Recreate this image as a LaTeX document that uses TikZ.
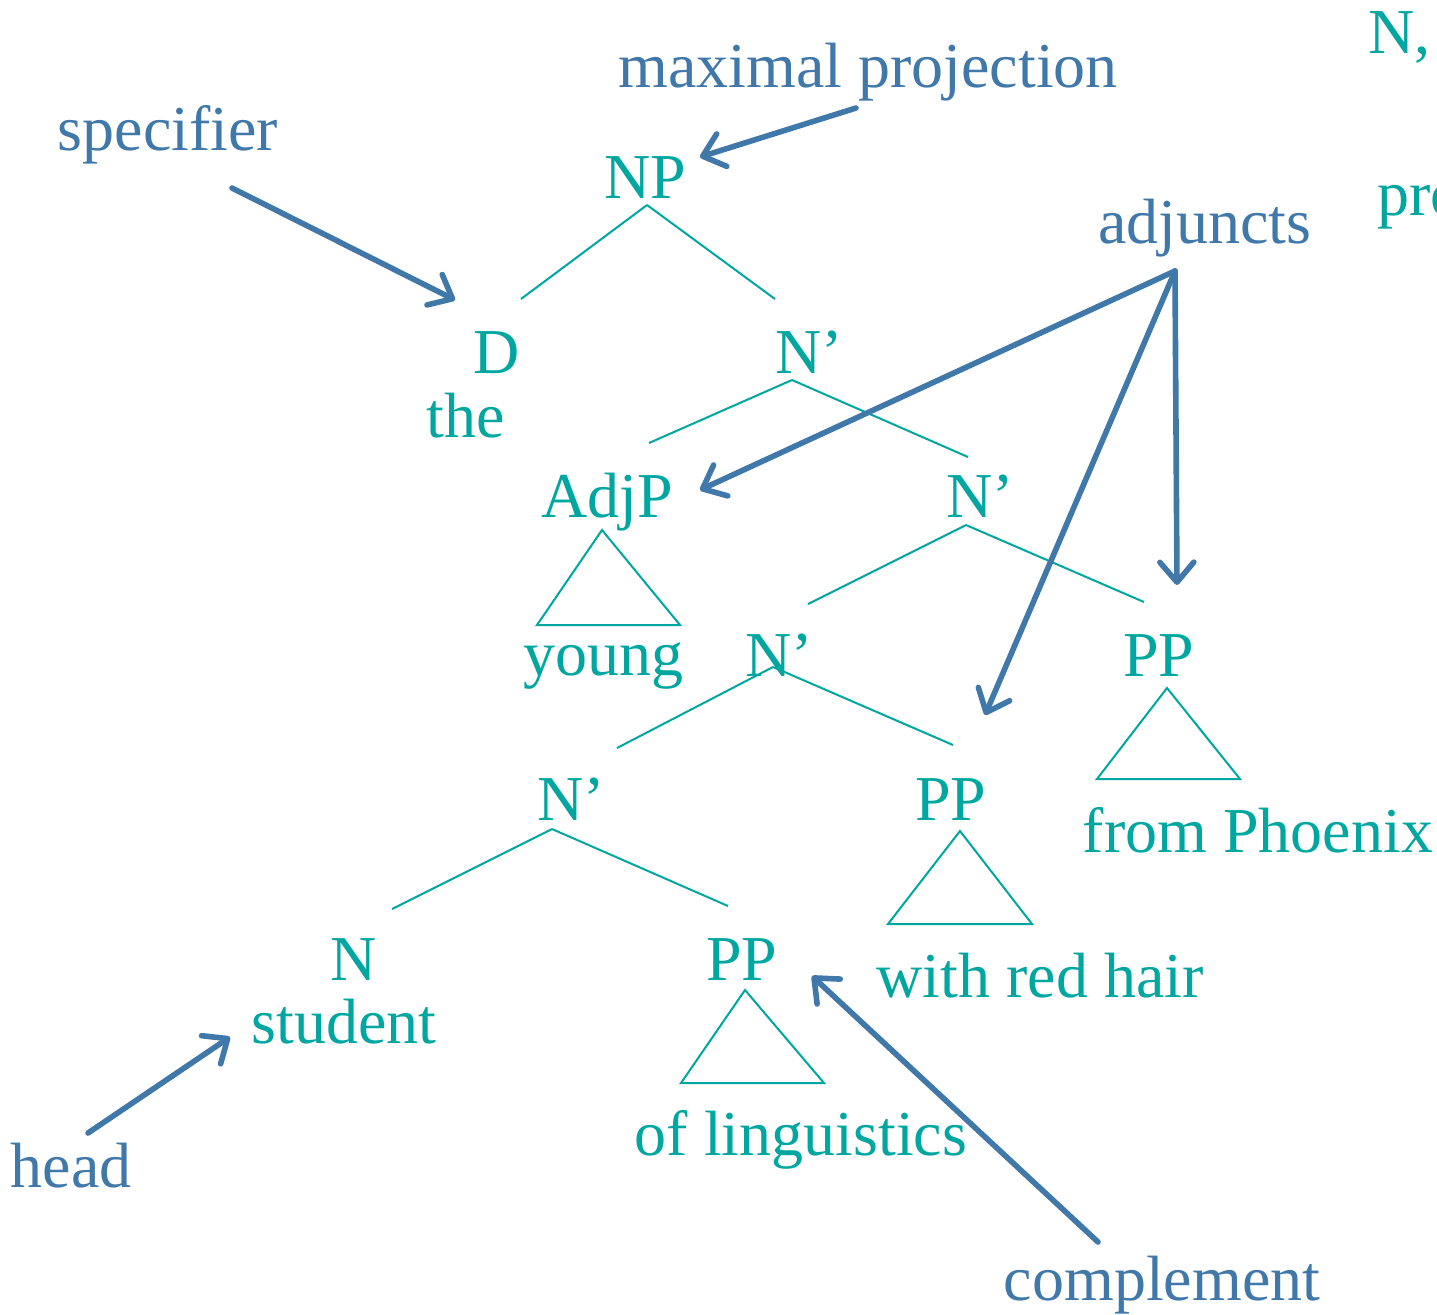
\documentclass[tikz,border=0pt]{standalone}
\usepackage{fontspec}
\setmainfont{Liberation Serif}
\usetikzlibrary{arrows.meta}
\definecolor{treeteal}{RGB}{0,166,160}
\definecolor{noteblue}{RGB}{64,120,170}
\begin{document}
\begin{tikzpicture}[x=0.5pt,y=-0.5pt,
  lab/.style={anchor=base,inner sep=0pt,text=treeteal,font=\fontsize{32}{38}\selectfont},
  note/.style={anchor=base,inner sep=0pt,text=noteblue,font=\fontsize{32}{38}\selectfont},
  branch/.style={draw=treeteal,line width=1pt},
  pointer/.style={draw=noteblue,line width=2.8pt,line cap=round,
    -{Straight Barb[length=10pt,width=17pt,line width=2.8pt,round]}}]
\useasboundingbox (0,0) rectangle (1437,1314);

% category labels
\node[lab] (np)   at (645,198)  {NP};
\node[lab] (d)    at (497,373)  {D};
\node[lab] (the)  at (466,437)  {the};
\node[lab] (nb1)  at (809,373)  {N’};
\node[lab] (adjp) at (607,517)  {AdjP};
\node[lab] (nb2)  at (980,517)  {N’};
\node[lab] (young) at (603,675) {young};
\node[lab] (nb3)  at (779,676)  {N’};
\node[lab] (ppr)  at (1159,676) {PP};
\node[lab] (nb4)  at (571,820)  {N’};
\node[lab] (ppm)  at (951,820)  {PP};
\node[lab] (phx)  at (1258,852) {from Phoenix};
\node[lab] (n)    at (354,980)  {N};
\node[lab] (ppl)  at (742,980)  {PP};
\node[lab] (hair) at (1040,997) {with red hair};
\node[lab] (stud) at (344,1043) {student};
\node[lab] (ling) at (801,1155) {of linguistics};
\node[lab,anchor=base west] (side1) at (1368,53) {N,};
\node[lab,anchor=base west] (side2) at (1377,215) {pro};

% annotation labels
\node[note] (maxp) at (868,87)   {maximal projection};
\node[note] (spec) at (168,150)  {specifier};
\node[note] (adj)  at (1205,243) {adjuncts};
\node[note] (head) at (71,1187)  {head};
\node[note] (comp) at (1162,1300) {complement};

% branches
\coordinate (npb) at (647,205);
\draw[branch] (npb) -- (521,299);
\draw[branch] (npb) -- (775,299);
\coordinate (nb1b) at (792,380);
\draw[branch] (nb1b) -- (649,443);
\draw[branch] (nb1b) -- (968,457);
\coordinate (nb2b) at (966,525);
\draw[branch] (nb2b) -- (808,604);
\draw[branch] (nb2b) -- (1144,602);
\coordinate (nb3b) at (773,667);
\draw[branch] (nb3b) -- (617,748);
\draw[branch] (nb3b) -- (953,745);
\coordinate (nb4b) at (552,829);
\draw[branch] (nb4b) -- (392,909);
\draw[branch] (nb4b) -- (728,906);

% triangles for unanalysed phrases
\draw[branch,line join=miter] (602,530) -- (537,625) -- (680,625) -- cycle;
\draw[branch,line join=miter] (1167,688) -- (1097,779) -- (1240,779) -- cycle;
\draw[branch,line join=miter] (960,831) -- (888,924) -- (1032,924) -- cycle;
\draw[branch,line join=miter] (745,990) -- (681,1083) -- (824,1083) -- cycle;

% pointers
\coordinate (maxs) at (856,108);
\coordinate (maxe) at (700,157);
\draw[pointer] (maxs) -- (maxe);
\coordinate (specs) at (232,188);
\coordinate (spece) at (455,300);
\draw[pointer] (specs) -- (spece);
\coordinate (adjs) at (1175,271);
\coordinate (adje1) at (700,490);
\coordinate (adje2) at (985,715);
\coordinate (adje3) at (1177,585);
\draw[pointer] (adjs) -- (adje1);
\draw[pointer] (adjs) -- (adje2);
\draw[pointer] (adjs) -- (adje3);
\coordinate (heads) at (88,1133);
\coordinate (heade) at (230,1037);
\draw[pointer] (heads) -- (heade);
\coordinate (comps) at (1098,1242);
\coordinate (compe) at (812,976);
\draw[pointer] (comps) -- (compe);
\end{tikzpicture}
\end{document}
